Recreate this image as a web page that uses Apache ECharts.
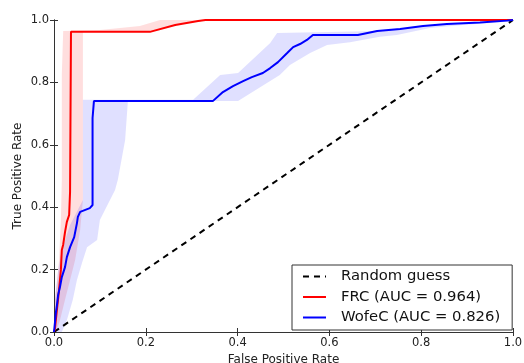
<!DOCTYPE html>
<html>
<head>
<meta charset="utf-8">
<script src="https://cdn.jsdelivr.net/npm/echarts@6/dist/echarts.min.js"></script>
<style>
  html, body { margin: 0; padding: 0; background: #fff; }
  #chart { width: 524px; height: 363px; }
</style>
</head>
<body>
<div id="chart"></div>
<script>
// ticks
const ticks = [0, 0.2, 0.4, 0.6, 0.8, 1.0];

// ROC curves [fpr, tpr]
const chanceLine = [[0, 0], [1, 1]];
const frcRoc = [[0, 0], [0.002, 0.01], [0.004, 0.038], [0.007, 0.08], [0.011, 0.135], [0.015, 0.199],
  [0.017, 0.263], [0.020, 0.28], [0.024, 0.32], [0.028, 0.353], [0.033, 0.375], [0.035, 0.449],
  [0.037, 0.455], [0.037, 0.962], [0.209, 0.962], [0.264, 0.984], [0.314, 0.997], [0.33, 1], [1, 1]];
const wofecRoc = [[0, 0], [0.002, 0.029], [0.004, 0.061], [0.0065, 0.087], [0.009, 0.119], [0.013, 0.144],
  [0.017, 0.176], [0.024, 0.208], [0.028, 0.24], [0.035, 0.272], [0.044, 0.304], [0.05, 0.349],
  [0.052, 0.369], [0.057, 0.385], [0.078, 0.397], [0.084, 0.407], [0.084, 0.686], [0.087, 0.686],
  [0.087, 0.74], [0.346, 0.74], [0.368, 0.769], [0.39, 0.788], [0.412, 0.804], [0.431, 0.817],
  [0.455, 0.83], [0.471, 0.846], [0.488, 0.865], [0.508, 0.894], [0.521, 0.913], [0.536, 0.923],
  [0.551, 0.936], [0.564, 0.952], [0.662, 0.952], [0.704, 0.965], [0.754, 0.971], [0.804, 0.981],
  [0.856, 0.987], [0.928, 0.992], [0.987, 0.998], [1, 1]];

// shaded spread bands: outline of the region (upper edge, then lower edge back)
const frcBand = [[0, 0], [0.002, 0.103], [0.007, 0.167], [0.011, 0.231], [0.013, 0.295], [0.015, 0.359],
  [0.017, 0.487], [0.017, 0.824], [0.020, 0.965], [0.100, 0.968], [0.187, 0.981], [0.231, 1], [1, 1],
  [0.340, 1], [0.275, 0.987], [0.209, 0.962], [0.063, 0.962], [0.063, 0.423], [0.057, 0.327],
  [0.046, 0.231], [0.035, 0.167], [0.024, 0.103], [0.013, 0.038], [0.004, 0]];
const wofecBand = [[0, 0], [0.002, 0.103], [0.009, 0.199], [0.017, 0.263], [0.035, 0.343], [0.063, 0.423],
  [0.063, 0.744], [0.303, 0.744], [0.362, 0.824], [0.401, 0.83], [0.471, 0.926], [0.486, 0.958],
  [0.704, 0.965], [0.797, 0.981], [1, 1],
  [0.987, 0.994], [0.891, 0.984], [0.819, 0.974], [0.747, 0.952], [0.71, 0.946], [0.645, 0.929],
  [0.595, 0.92], [0.558, 0.894], [0.514, 0.856], [0.492, 0.824], [0.401, 0.74], [0.161, 0.74],
  [0.155, 0.615], [0.139, 0.487], [0.133, 0.455], [0.1, 0.359], [0.094, 0.295], [0.072, 0.272],
  [0.061, 0.221], [0.05, 0.167], [0.041, 0.103], [0.028, 0.038], [0.017, 0]];

const font = 'DejaVu Sans';

const bandSeries = (pts, fill) => ({
  type: 'custom',
  silent: true,
  z: 1,
  data: [[0, 0]],
  renderItem: (params, api) => ({
    type: 'polygon',
    shape: { points: pts.map(p => api.coord(p)) },
    style: { fill: fill }
  })
});

const frameAxis = (pos) => ({
  type: 'value',
  position: pos,
  min: 0, max: 1, interval: 0.2,
  axisLine: { show: true, lineStyle: { color: '#333', width: 1 } },
  axisTick: { show: true, inside: true, length: 4, lineStyle: { color: '#333' } },
  axisLabel: { show: false },
  splitLine: { show: false }
});

const chart = echarts.init(document.getElementById('chart'));
chart.setOption({
  animation: false,
  backgroundColor: '#fff',
  grid: { left: 54, right: 11, top: 20, bottom: 31, outerBoundsMode: 'none' },
  xAxis: [
    {
      type: 'value', min: 0, max: 1, interval: 0.2,
      name: 'False Positive Rate', nameLocation: 'middle', nameGap: 19,
      nameTextStyle: { fontFamily: font, fontSize: 12, color: '#222' },
      axisLine: { show: true, lineStyle: { color: '#333', width: 1 } },
      axisTick: { show: true, inside: true, length: 4, lineStyle: { color: '#333' } },
      axisLabel: { fontFamily: font, fontSize: 11.5, color: '#222', margin: 5,
        formatter: v => v.toFixed(1) },
      splitLine: { show: false }
    },
    frameAxis('top')
  ],
  yAxis: [
    {
      type: 'value', min: 0, max: 1, interval: 0.2,
      name: 'True Positive Rate', nameLocation: 'middle', nameGap: 30,
      nameMoveOverlap: false,
      nameTextStyle: { fontFamily: font, fontSize: 12, color: '#222' },
      axisLine: { show: true, lineStyle: { color: '#333', width: 1 } },
      axisTick: { show: true, inside: true, length: 4, lineStyle: { color: '#333' } },
      axisLabel: { fontFamily: font, fontSize: 11.5, color: '#222', margin: 5,
        formatter: v => v.toFixed(1) },
      splitLine: { show: false }
    },
    frameAxis('right')
  ],
  legend: {
    orient: 'vertical',
    left: 292, top: 265,
    padding: [4, 12, 5, 10],
    itemWidth: 23, itemHeight: 14, itemGap: 5.5,
    borderColor: '#333', borderWidth: 1, borderRadius: 0,
    backgroundColor: '#fff',
    itemStyle: { color: 'rgba(0,0,0,0)', borderWidth: 0, opacity: 0 },
    textStyle: { fontFamily: font, fontSize: 14.8, color: '#111', padding: [0, 0, 0, 10] },
    data: ['Random guess', 'FRC (AUC = 0.964)', 'WofeC (AUC = 0.826)']
  },
  series: [
    bandSeries(frcBand, 'rgba(255,0,0,0.13)'),
    bandSeries(wofecBand, 'rgba(0,0,255,0.12)'),
    {
      name: 'Random guess', type: 'line', data: chanceLine, z: 3,
      showSymbol: false, symbol: 'none',
      lineStyle: { color: '#000', width: 2, type: [6, 5] },
      itemStyle: { color: '#000' }
    },
    {
      name: 'FRC (AUC = 0.964)', type: 'line', data: frcRoc, z: 4,
      showSymbol: false, symbol: 'none',
      lineStyle: { color: '#ff0000', width: 2 },
      itemStyle: { color: '#ff0000' }
    },
    {
      name: 'WofeC (AUC = 0.826)', type: 'line', data: wofecRoc, z: 4,
      showSymbol: false, symbol: 'none',
      lineStyle: { color: '#0000ff', width: 2 },
      itemStyle: { color: '#0000ff' }
    }
  ]
});
</script>
</body>
</html>
